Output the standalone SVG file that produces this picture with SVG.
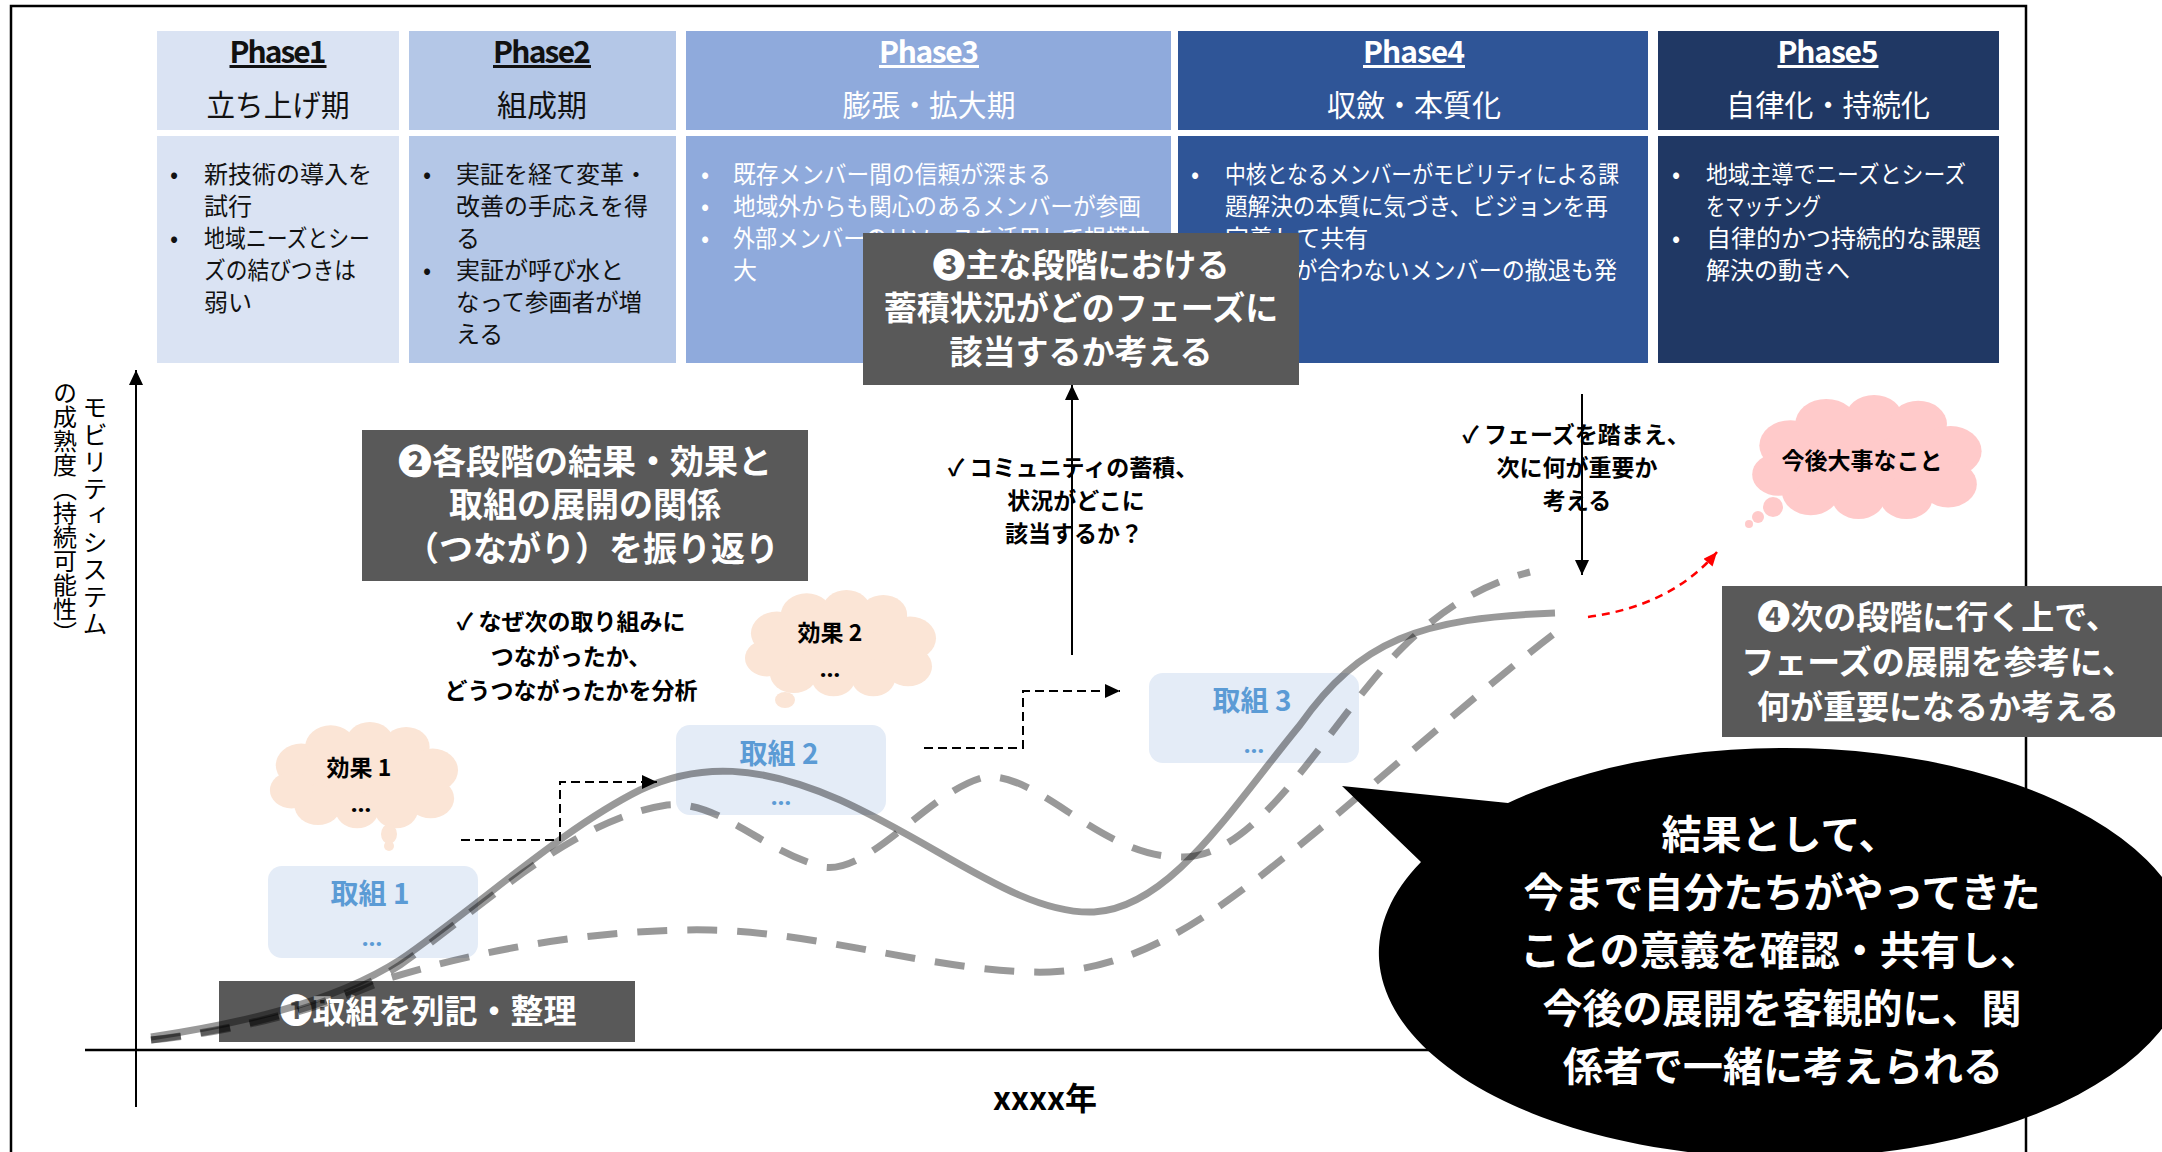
<svg xmlns="http://www.w3.org/2000/svg" width="2162" height="1152" viewBox="0 0 2162 1152">
<defs>
<style>
text{font-family:'Noto Sans CJK JP','Noto Sans',sans-serif}
.ph{font-size:30px;font-weight:700;text-anchor:middle;text-decoration:underline}
.sub{font-size:30px;text-anchor:middle}
.body{font-size:24px}
.dk{fill:#111}
.wt{fill:#fff}
.box{fill:#595959}
.bt{font-size:33px;font-weight:700;fill:#fff;text-anchor:middle}
.note{font-size:23px;font-weight:700;fill:#000;text-anchor:middle}
.tk{fill:#E4ECF7}
.tkt{font-size:28px;font-weight:700;fill:#5B9BD5;text-anchor:middle}
.ell{font-family:'Noto Sans',sans-serif;font-size:24px;font-weight:700;text-anchor:middle}
.curve{fill:none;stroke:#000;stroke-opacity:.4;stroke-width:7}
.dash{stroke-dasharray:30 20}
.cl{font-size:23px;font-weight:700;fill:#000;text-anchor:middle}
.conn{fill:none;stroke:#000;stroke-width:2}
.dconn{stroke-dasharray:9 5}
</style>
<marker id="ah" viewBox="0 0 10 10" refX="10" refY="5" markerUnits="userSpaceOnUse" markerWidth="15" markerHeight="14" orient="auto" preserveAspectRatio="none"><path d="M0,0L10,5L0,10Z" fill="#000"/></marker>
<marker id="ahr" viewBox="0 0 10 10" refX="10" refY="5" markerUnits="userSpaceOnUse" markerWidth="14" markerHeight="12" orient="auto" preserveAspectRatio="none"><path d="M0,0L10,5L0,10Z" fill="#FF0000"/></marker>
<symbol id="cloud" viewBox="0 0 200 130" preserveAspectRatio="none">
<ellipse cx="100" cy="68" rx="72" ry="42"/>
<circle cx="38" cy="52" r="26"/>
<circle cx="68" cy="30" r="26"/>
<circle cx="108" cy="24" r="24"/>
<circle cx="145" cy="30" r="24"/>
<circle cx="172" cy="58" r="26"/>
<circle cx="170" cy="92" r="24"/>
<circle cx="135" cy="106" r="22"/>
<circle cx="95" cy="106" r="22"/>
<circle cx="55" cy="100" r="24"/>
<circle cx="28" cy="82" r="22"/>
</symbol>
</defs>
<rect x="0" y="0" width="2162" height="1152" fill="#fff"/>
<rect x="11" y="6" width="2015" height="1160" fill="none" stroke="#000" stroke-width="2.5"/>

<g id="phase1">
<rect x="157" y="31" width="242" height="99" fill="#DAE3F3"/>
<rect x="157" y="136" width="242" height="227" fill="#DAE3F3"/>
<text class="ph dk" x="278" y="63" textLength="97">Phase1</text>
<text class="sub dk" x="278" y="116" textLength="143" lengthAdjust="spacingAndGlyphs">立ち上げ期</text>
<g class="body dk">
<text x="170" y="183">•</text><text x="204" y="183">新技術の導入を</text>
<text x="204" y="215">試行</text>
<text x="170" y="247">•</text><text x="204" y="247" textLength="166" lengthAdjust="spacingAndGlyphs">地域ニーズとシー</text>
<text x="204" y="279" textLength="152" lengthAdjust="spacingAndGlyphs">ズの結びつきは</text>
<text x="204" y="311">弱い</text>
</g>
</g>

<g id="phase2">
<rect x="409" y="31" width="267" height="99" fill="#B4C7E7"/>
<rect x="409" y="136" width="267" height="227" fill="#B4C7E7"/>
<text class="ph dk" x="542" y="63" textLength="98">Phase2</text>
<text class="sub dk" x="542" y="116">組成期</text>
<g class="body dk">
<text x="423" y="183">•</text><text x="456" y="183">実証を経て変革・</text>
<text x="456" y="215">改善の手応えを得</text>
<text x="456" y="247">る</text>
<text x="423" y="279">•</text><text x="456" y="279">実証が呼び水と</text>
<text x="456" y="311" textLength="186" lengthAdjust="spacingAndGlyphs">なって参画者が増</text>
<text x="456" y="343">える</text>
</g>
</g>

<g id="phase3">
<rect x="686" y="31" width="485" height="99" fill="#8FAADC"/>
<rect x="686" y="136" width="485" height="227" fill="#8FAADC"/>
<text class="ph wt" x="929" y="63" textLength="100">Phase3</text>
<text class="sub wt" x="929" y="116" textLength="173" lengthAdjust="spacingAndGlyphs">膨張・拡大期</text>
<g class="body wt">
<text x="701" y="183">•</text><text x="733" y="183" textLength="318" lengthAdjust="spacingAndGlyphs">既存メンバー間の信頼が深まる</text>
<text x="701" y="215">•</text><text x="733" y="215" textLength="408" lengthAdjust="spacingAndGlyphs">地域外からも関心のあるメンバーが参画</text>
<text x="701" y="247">•</text><text x="733" y="247" textLength="417" lengthAdjust="spacingAndGlyphs">外部メンバーのリソースを活用して規模拡</text>
<text x="733" y="279">大</text>
</g>
</g>

<g id="phase4">
<rect x="1178" y="31" width="470" height="99" fill="#2F5597"/>
<rect x="1178" y="136" width="470" height="227" fill="#2F5597"/>
<text class="ph wt" x="1414" y="63" textLength="102">Phase4</text>
<text class="sub wt" x="1414" y="116" textLength="174" lengthAdjust="spacingAndGlyphs">収斂・本質化</text>
<g class="body wt">
<text x="1191" y="183">•</text><text x="1225" y="183" textLength="394" lengthAdjust="spacingAndGlyphs">中核となるメンバーがモビリティによる課</text>
<text x="1225" y="215" textLength="383" lengthAdjust="spacingAndGlyphs">題解決の本質に気づき、ビジョンを再</text>
<text x="1225" y="247">定義して共有</text>
<text x="1191" y="279">•</text><text x="1225" y="279" textLength="392" lengthAdjust="spacingAndGlyphs">方向性が合わないメンバーの撤退も発</text>
<text x="1225" y="311">生</text>
</g>
</g>

<g id="phase5">
<rect x="1658" y="31" width="341" height="99" fill="#203864"/>
<rect x="1658" y="136" width="341" height="227" fill="#203864"/>
<text class="ph wt" x="1828" y="63" textLength="101">Phase5</text>
<text class="sub wt" x="1828" y="116" textLength="204" lengthAdjust="spacingAndGlyphs">自律化・持続化</text>
<g class="body wt">
<text x="1672" y="183">•</text><text x="1706" y="183" textLength="260" lengthAdjust="spacingAndGlyphs">地域主導でニーズとシーズ</text>
<text x="1706" y="215" textLength="115" lengthAdjust="spacingAndGlyphs">をマッチング</text>
<text x="1672" y="247">•</text><text x="1706" y="247" textLength="275" lengthAdjust="spacingAndGlyphs">自律的かつ持続的な課題</text>
<text x="1706" y="279">解決の動きへ</text>
</g>
</g>

<g id="axes">
<line x1="85" y1="1050" x2="1960" y2="1050" stroke="#000" stroke-width="2.5"/>
<line x1="136" y1="1107" x2="136" y2="370" stroke="#000" stroke-width="2" marker-end="url(#ah)"/>
<text x="95" y="395" style="writing-mode:vertical-rl;font-size:25px;letter-spacing:2px" fill="#000">モビリティシステム</text>
<text x="65" y="381" style="writing-mode:vertical-rl;font-size:24px" fill="#000">の成熟度（持続可能性）</text>
<text x="1045" y="1110" style="font-size:32px;font-weight:700;text-anchor:middle" fill="#000">xxxx年</text>
</g>

<g id="effect1">
<use href="#cloud" x="264" y="722" width="196" height="108" fill="#FBE5D6"/>
<ellipse cx="389" cy="834" rx="8" ry="10" fill="#FBE5D6"/>
<circle cx="389" cy="846" r="5" fill="#FBE5D6"/>
<text class="cl" x="359" y="776">効果 1</text>
<text class="ell" x="361" y="812">…</text>
</g>

<g id="effect2">
<use href="#cloud" x="739" y="590" width="199" height="108" fill="#FBE5D6"/>
<ellipse cx="785" cy="700" rx="10" ry="8" fill="#FBE5D6"/>
<text class="cl" x="830" y="641">効果 2</text>
<text class="ell" x="830" y="677">…</text>
</g>

<g id="important">
<use href="#cloud" x="1745" y="395" width="239" height="126" fill="#FFCACA"/>
<circle cx="1773" cy="507" r="10" fill="#FFCACA"/>
<circle cx="1758" cy="517" r="6" fill="#FFCACA"/>
<circle cx="1749" cy="524" r="4" fill="#FFCACA"/>
<text class="cl" x="1862" y="469">今後大事なこと</text>
</g>

<g id="torikumi1">
<rect class="tk" x="268" y="866" width="210" height="92" rx="14"/>
<text class="tkt" x="370" y="904">取組 1</text>
<text class="ell" x="372" y="946" fill="#5B9BD5">…</text>
</g>
<g id="torikumi2">
<rect class="tk" x="676" y="725" width="210" height="90" rx="14"/>
<text class="tkt" x="779" y="764">取組 2</text>
<text class="ell" x="781" y="805" fill="#5B9BD5">…</text>
</g>
<g id="torikumi3">
<rect class="tk" x="1149" y="673" width="210" height="90" rx="14"/>
<text class="tkt" x="1252" y="711">取組 3</text>
<text class="ell" x="1254" y="753" fill="#5B9BD5">…</text>
</g>

<g id="step1">
<rect class="box" x="219" y="981" width="416" height="61"/>
<text class="bt" x="428" y="1023">❶取組を列記・整理</text>
</g>

<g id="curves">
<path class="curve" d="M151,1037 C230,1025 330,1005 400,960 C480,905 560,830 640,790 C700,762 760,765 840,800 C940,845 1020,915 1094,912 C1170,908 1230,810 1300,725 C1360,640 1420,618 1555,613"/>
<path class="curve dash" d="M151,1040 C230,1030 330,1010 400,965 C480,910 570,820 667,805 C720,800 760,850 823,867 C870,875 930,790 985,777 C1040,772 1100,857 1180,857 C1260,860 1330,720 1400,650 C1440,610 1480,585 1530,572"/>
<path class="curve dash" d="M151,1040 C250,1030 330,1005 390,978 C480,950 600,928 711,930 C820,932 950,975 1050,972 C1150,968 1230,900 1300,845 C1380,780 1480,690 1555,633"/>
</g>

<g id="connectors">
<polyline class="conn dconn" points="461,840 560,840 560,782 657,782" marker-end="url(#ah)"/>
<polyline class="conn dconn" points="924,748 1023,748 1023,691 1120,691" marker-end="url(#ah)"/>
<line class="conn" x1="1072" y1="655" x2="1072" y2="385" stroke-width="1.8" marker-end="url(#ah)"/>
<line class="conn" x1="1582" y1="394" x2="1582" y2="575" stroke-width="1.8" marker-end="url(#ah)"/>
<path d="M1588,617 C1640,610 1685,590 1717,552" fill="none" stroke="#FF0000" stroke-width="2.5" stroke-dasharray="8 6" marker-end="url(#ahr)"/>
</g>

<g id="step2">
<rect class="box" x="362" y="430" width="446" height="151"/>
<text class="bt" x="585" y="474" style="font-size:34px" textLength="374" lengthAdjust="spacingAndGlyphs">❷各段階の結果・効果と</text>
<text class="bt" x="585" y="517" style="font-size:34px">取組の展開の関係</text>
<text class="bt" x="592" y="561" style="font-size:34px">（つながり）を振り返り</text>
</g>

<g id="step3">
<rect class="box" x="863" y="233" width="436" height="152"/>
<text class="bt" x="1081" y="277">❸主な段階における</text>
<text class="bt" x="1081" y="320">蓄積状況がどのフェーズに</text>
<text class="bt" x="1081" y="364">該当するか考える</text>
</g>

<g id="step4">
<rect class="box" x="1722" y="586" width="440" height="151"/>
<text class="bt" x="1938" y="629">❹次の段階に行く上で、</text>
<text class="bt" x="1938" y="674">フェーズの展開を参考に、</text>
<text class="bt" x="1938" y="719">何が重要になるか考える</text>
</g>

<g id="notes">
<text class="note" x="571" y="630">✓ なぜ次の取り組みに</text>
<text class="note" x="571" y="665">つながったか、</text>
<text class="note" x="571" y="699">どうつながったかを分析</text>
<text class="note" x="1073" y="476">✓ コミュニティの蓄積、</text>
<text class="note" x="1076" y="509">状況がどこに</text>
<text class="note" x="1074" y="542">該当するか？</text>
<text class="note" x="1576" y="443">✓ フェーズを踏まえ、</text>
<text class="note" x="1577" y="476">次に何が重要か</text>
<text class="note" x="1577" y="509">考える</text>
</g>

<g id="result-bubble">
<path d="M1508,803 L1342,786 L1421,862 A406,205 0 1 0 1508,803 Z" fill="#000"/>
<g style="font-size:40px;font-weight:700;text-anchor:middle" fill="#fff">
<text x="1780" y="849">結果として、</text>
<text x="1782" y="907">今まで自分たちがやってきた</text>
<text x="1780" y="965">ことの意義を確認・共有し、</text>
<text x="1782" y="1023">今後の展開を客観的に、関</text>
<text x="1783" y="1081">係者で一緒に考えられる</text>
</g>
</g>
</svg>
